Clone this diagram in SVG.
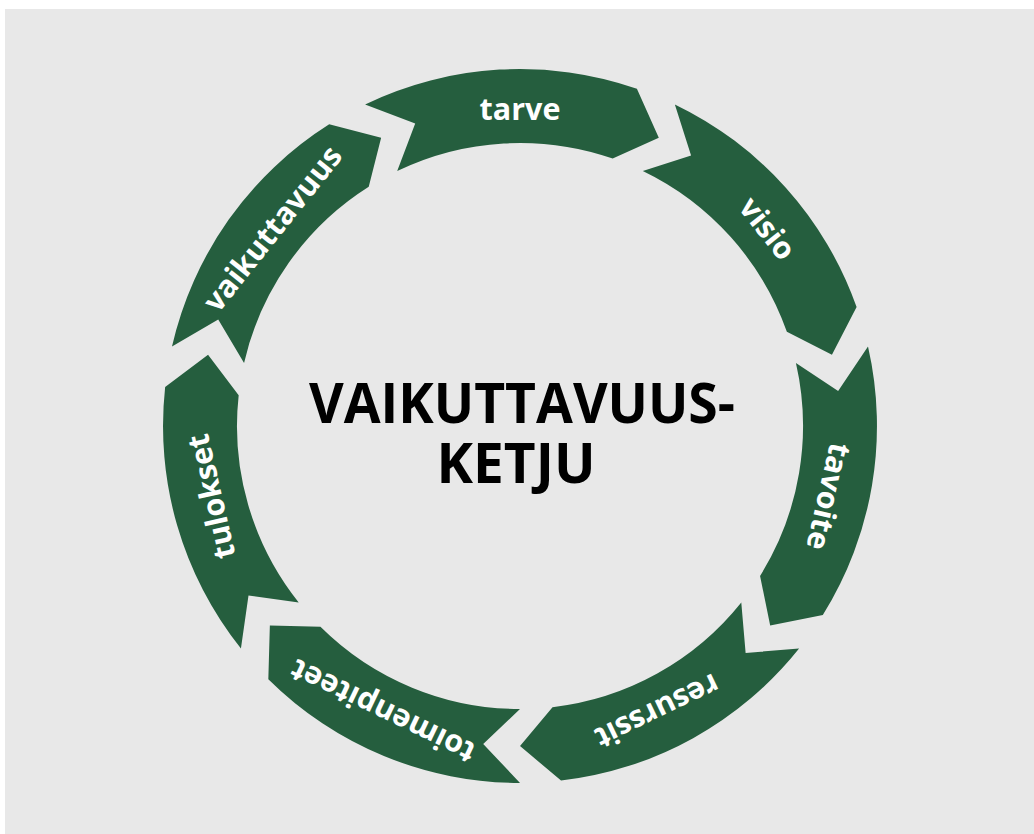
<svg xmlns="http://www.w3.org/2000/svg" xmlns:xlink="http://www.w3.org/1999/xlink" width="1034" height="834" viewBox="0 0 1034 834">
  <style>
    .seg { fill: #255e3e; }
    .lbl { font-family: "Open Sans", "Noto Sans", "DejaVu Sans", sans-serif; font-weight: 700; font-size: 30.5px; fill: #ffffff; text-anchor: middle; }
    .title { font-family: "Open Sans", "Noto Sans", "DejaVu Sans", sans-serif; font-weight: 700; font-size: 55px; fill: #000000; text-anchor: middle; }
  </style>
  <defs>
    <path id="seg" d="M365.1,104.4 A357,357 0 0 1 636.9,88.7 L658.8,137.7 L612.7,158.6 A283,283 0 0 0 397.2,171.0 L415.2,123.6 Z"/>
  </defs>
  <rect x="0" y="0" width="1034" height="834" fill="#ffffff"/>
  <rect x="5" y="9" width="1029" height="825" fill="#e8e8e8"/>
  <g id="connectors"></g>
  <g id="node-tarve">
    <use xlink:href="#seg" class="seg"/>
    <text class="lbl" x="520" y="120">tarve</text>
  </g>
  <g id="node-visio" transform="rotate(51.4286 520 426)">
    <use xlink:href="#seg" class="seg"/>
    <text class="lbl" x="520" y="120">visio</text>
  </g>
  <g id="node-tavoite" transform="rotate(102.8571 520 426)">
    <use xlink:href="#seg" class="seg"/>
    <text class="lbl" x="520" y="120">tavoite</text>
  </g>
  <g id="node-resurssit" transform="rotate(154.2857 520 426)">
    <use xlink:href="#seg" class="seg"/>
    <text class="lbl" x="520" y="120">resurssit</text>
  </g>
  <g id="node-toimenpiteet" transform="rotate(205.7143 520 426)">
    <use xlink:href="#seg" class="seg"/>
    <text class="lbl" x="520" y="120">toimenpiteet</text>
  </g>
  <g id="node-tulokset" transform="rotate(257.1429 520 426)">
    <use xlink:href="#seg" class="seg"/>
    <text class="lbl" x="520" y="120">tulokset</text>
  </g>
  <g id="node-vaikuttavuus" transform="rotate(308.5714 520 426)">
    <use xlink:href="#seg" class="seg"/>
    <text class="lbl" x="520" y="120">vaikuttavuus</text>
  </g>
  <g id="node-title">
    <text class="title"><tspan x="522" y="423" textLength="426" lengthAdjust="spacingAndGlyphs">VAIKUTTAVUUS-</tspan><tspan x="516" y="483">KETJU</tspan></text>
  </g>
</svg>
